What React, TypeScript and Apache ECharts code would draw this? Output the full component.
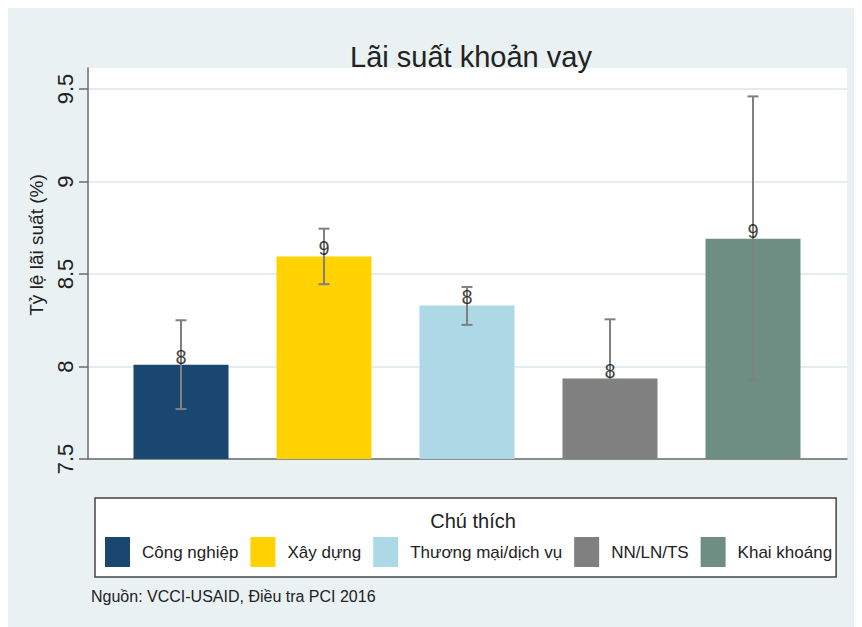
import React, { useEffect, useRef } from "react";
import * as echarts from "echarts";

const categories = ["Công nghiệp", "Xây dựng", "Thương mại/dịch vụ", "NN/LN/TS", "Khai khoáng"];
const means = [8.01, 8.595, 8.33, 7.935, 8.69];
const upper = [8.25, 8.745, 8.43, 8.255, 9.46];
const lower = [7.77, 8.445, 8.225, 7.615, 7.925];
const colors = ["#1A476F", "#FFD200", "#ADD8E6", "#808080", "#6E8E84"];
const yTicks = { min: 7.5, max: 9.5, interval: 0.5 };

const titleText = "Lãi suất khoản vay";
const yName = "Tỷ lệ lãi suất (%)";
const legendTitle = "Chú thích";
const sourceText = "Nguồn: VCCI-USAID, Điều tra PCI 2016";

const FONT = "'Liberation Sans', Arial, Helvetica, sans-serif";

export default function App() {
  const ref = useRef<HTMLDivElement>(null);
  useEffect(() => {
    if (!ref.current) return;
    const chart = echarts.init(ref.current, null, { renderer: "svg" });
    const axisColor = "#6b6b6b";
    const errColor = "#808080";

    const barSeries = categories.map((name, i) => ({
      name,
      type: "bar",
      xAxisIndex: 1,
      yAxisIndex: 1,
      barWidth: 95,
      barGap: "-100%",
      z: 2,
      itemStyle: { color: colors[i] },
      data: categories.map((_, j) => (j === i ? means[i] : "-")),
    }));

    const option: any = {
      animation: false,
      backgroundColor: "#E9F1F3",
      textStyle: { fontFamily: FONT },
      title: [
        {
          text: titleText,
          left: 458,
          top: 29,
          textAlign: "center",
          textStyle: { fontSize: 29, fontWeight: "normal", color: "#222", fontFamily: FONT },
        },
        {
          text: legendTitle,
          left: 460,
          top: 498,
          textAlign: "center",
          z: 10,
          textStyle: { fontSize: 20, fontWeight: "normal", color: "#222", fontFamily: FONT },
        },
        {
          text: sourceText,
          left: 83,
          top: 580,
          padding: 0,
          textStyle: { fontSize: 16, fontWeight: "normal", color: "#222", fontFamily: FONT },
        },
      ],
      legend: {
        data: categories,
        left: 87,
        top: 490,
        orient: "horizontal",
        icon: "rect",
        itemWidth: 25,
        itemHeight: 30,
        itemGap: 12,
        padding: [39, 4, 10, 10],
        backgroundColor: "#fff",
        borderColor: "#444",
        borderWidth: 1.5,
        selectedMode: false,
        textStyle: { fontSize: 17, color: "#222", fontFamily: FONT, padding: [0, 0, 0, 7] },
      },
      grid: [
        { left: 80, top: 60, width: 759, height: 391, show: true, backgroundColor: "#fff", borderWidth: 0 },
        { left: 101.5, top: 81, width: 715, height: 370 },
        { left: 80, top: 81, width: 759, height: 370 },
      ],
      xAxis: [
        {
          gridIndex: 0,
          type: "value",
          min: 0,
          max: 1,
          axisLine: { show: true, onZero: false, lineStyle: { color: axisColor, width: 1.5 } },
          axisTick: { show: false },
          axisLabel: { show: false },
          splitLine: { show: false },
        },
        {
          gridIndex: 1,
          type: "category",
          data: categories,
          show: false,
        },
        {
          gridIndex: 2,
          type: "value",
          min: 0,
          max: 1,
          show: false,
        },
      ],
      yAxis: [
        {
          gridIndex: 0,
          type: "value",
          min: 0,
          max: 1,
          axisLine: { show: true, onZero: false, lineStyle: { color: axisColor, width: 1.5 } },
          axisTick: { show: false },
          axisLabel: { show: false },
          splitLine: { show: false },
        },
        {
          gridIndex: 1,
          type: "value",
          min: yTicks.min,
          max: yTicks.max,
          interval: yTicks.interval,
          show: false,
        },
        {
          gridIndex: 2,
          type: "value",
          min: yTicks.min,
          max: yTicks.max,
          interval: yTicks.interval,
          axisLine: { show: false },
          axisTick: { show: true, length: 9, lineStyle: { color: axisColor, width: 1.5 } },
          axisLabel: { rotate: 90, fontSize: 22, color: "#222", margin: 12, fontFamily: FONT },
          splitLine: { show: true, lineStyle: { color: "#E3EDF1", width: 2 } },
          name: yName,
          nameLocation: "middle",
          nameGap: 31,
          nameTextStyle: { fontSize: 19, color: "#222", fontFamily: FONT, padding: [0, 0, 0, 58] },
        },
      ],
      series: [
        ...barSeries,
        {
          type: "custom",
          name: "errors",
          xAxisIndex: 1,
          yAxisIndex: 1,
          z: 3,
          clip: false,
          data: categories.map((_, i) => [i, lower[i], upper[i]]),
          renderItem: (params: any, api: any) => {
            const x = api.value(0);
            const pHi = api.coord([x, api.value(2)]);
            const pLo = api.coord([x, api.value(1)]);
            const half = 5.5;
            const style = { stroke: errColor, lineWidth: 2 };
            return {
              type: "group",
              children: [
                { type: "line", shape: { x1: pHi[0], y1: pHi[1], x2: pLo[0], y2: pLo[1] }, style },
                { type: "line", shape: { x1: pHi[0] - half, y1: pHi[1], x2: pHi[0] + half, y2: pHi[1] }, style },
                { type: "line", shape: { x1: pLo[0] - half, y1: pLo[1], x2: pLo[0] + half, y2: pLo[1] }, style },
              ],
            };
          },
        },
        {
          type: "scatter",
          name: "labels",
          xAxisIndex: 1,
          yAxisIndex: 1,
          z: 4,
          symbolSize: 0,
          silent: true,
          data: means.map((m, i) => [i, m]),
          label: {
            show: true,
            position: "top",
            distance: -2,
            fontSize: 20,
            color: "#111",
            fontFamily: FONT,
            formatter: (p: any) => String(Math.round(p.value[1])),
          },
        },
      ],
    };
    chart.setOption(option);
    return () => chart.dispose();
  }, []);
  return <div ref={ref} style={{ width: 854, height: 619 }} />;
}
